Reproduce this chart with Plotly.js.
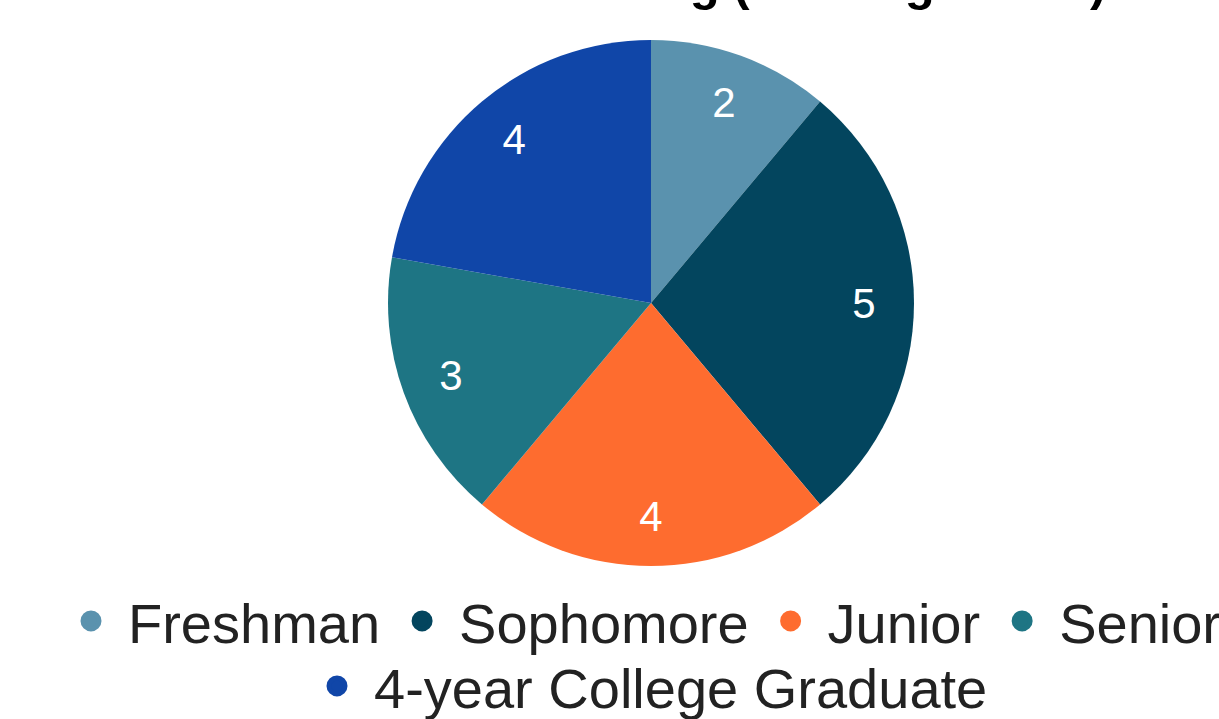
<!DOCTYPE html>
<html>
<head>
<meta charset="utf-8">
<script src="https://cdn.plot.ly/plotly-3.0.1.min.js"></script>
<style>
  html, body { margin: 0; padding: 0; width: 1219px; height: 719px; overflow: hidden; background: #ffffff; }
  #chart { position: absolute; left: 0; top: -100px; width: 1302px; height: 830px; }
</style>
</head>
<body>
<div id="chart"></div>
<script>
// ---- data ----
const categories = ["Freshman", "Sophomore", "Junior", "Senior", "4-year College Graduate"];
const counts = [2, 5, 4, 3, 4];
const sliceColors = ["#5a92ae", "#03455e", "#fe6c2f", "#1e7584", "#1046a8"];
const chartTitle = "Class Standing (Starting Grade)";

// ---- layout constants (pixels in the full chart) ----
const W = 1302, H = 830;
const FONT = "'Liberation Sans', Arial, Helvetica, sans-serif";
const pieTop = 140, pieBottom = 666;
const pieDomain = { x: [0, 1], y: [(H - pieBottom) / H, (H - pieTop) / H] };

// filled slices
const pie = {
  type: "pie",
  labels: categories,
  values: counts,
  sort: false,
  direction: "clockwise",
  rotation: 0,
  marker: { colors: sliceColors, line: { width: 0 } },
  textinfo: "none",
  showlegend: false,
  hoverinfo: "label+value+percent",
  domain: pieDomain
};

// transparent ring on top that carries the value labels near the rim
const pieLabels = {
  type: "pie",
  labels: categories,
  values: counts,
  sort: false,
  direction: "clockwise",
  rotation: 0,
  hole: 0.62,
  marker: { colors: categories.map(() => "rgba(0,0,0,0)"), line: { width: 0 } },
  textinfo: "value",
  textposition: "inside",
  insidetextorientation: "horizontal",
  insidetextfont: { color: "#ffffff", size: 42, family: FONT },
  showlegend: false,
  hoverinfo: "skip",
  domain: pieDomain
};

// legend entries (circle bullets) drawn by Plotly's legend
const legendTraces = categories.map((c, i) => ({
  type: "scatter",
  mode: "markers",
  x: [null], y: [null],
  name: c,
  marker: { color: sliceColors[i], size: 30, symbol: "circle", line: { color: sliceColors[i], width: 6 } },
  legend: i < 4 ? "legend" : "legend2",
  hoverinfo: "skip",
  showlegend: true
}));

const legendCommon = {
  orientation: "h",
  xanchor: "left",
  yanchor: "middle",
  itemwidth: 64,
  itemclick: false,
  itemdoubleclick: false,
  bgcolor: "rgba(0,0,0,0)",
  font: { family: FONT, size: 56, color: "#222222" },
  traceorder: "normal"
};

const layout = {
  width: W,
  height: H,
  paper_bgcolor: "#ffffff",
  plot_bgcolor: "#ffffff",
  margin: { l: 0, r: 0, t: 0, b: 0, autoexpand: false },
  font: { family: FONT },
  title: {
    text: "<b>" + chartTitle + "</b>",
    font: { family: FONT, size: 49, color: "#000000" },
    x: 736 / W, xanchor: "center", xref: "container",
    y: (H - 100) / H, yanchor: "bottom", yref: "container",
    automargin: false
  },
  xaxis: { visible: false },
  yaxis: { visible: false },
  legend: Object.assign({}, legendCommon, { x: 54 / W, y: (H - 721) / H }),
  legend2: Object.assign({}, legendCommon, { x: 300 / W, y: (H - 786) / H }),
  showlegend: true
};

Plotly.newPlot("chart", [pie, pieLabels].concat(legendTraces), layout, { displayModeBar: false, responsive: false });
</script>
</body>
</html>
